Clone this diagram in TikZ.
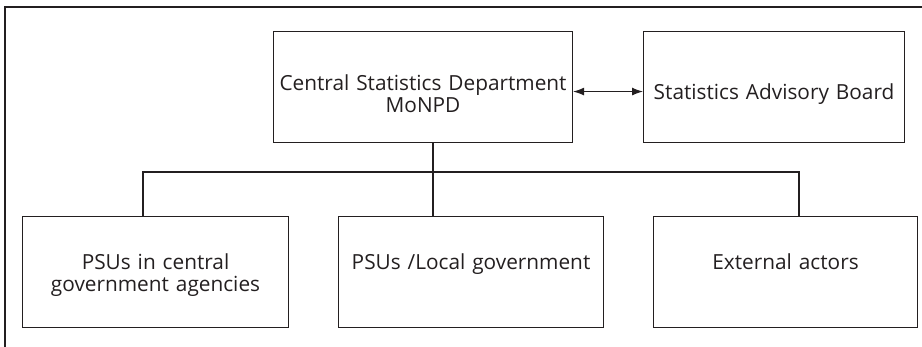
\documentclass[tikz,border=0pt]{standalone}
\usepackage{fontspec}
\setmainfont{Open Sans}
\usetikzlibrary{arrows.meta}
\definecolor{ink}{HTML}{231F20}
\begin{document}
\begin{tikzpicture}[x=1pt,y=-1pt,
    box/.style={draw=ink,line width=1.1pt,inner sep=0pt,align=center,anchor=north west,
      text=ink,font=\fontsize{20.8}{22}\selectfont},
    link/.style={draw=ink,line width=1.1pt},
    frame/.style={draw=ink,line width=2.2pt}]
        \useasboundingbox (0,0) rectangle (922,347);
        \draw[frame] (5,347) -- (5,7) -- (922,7);
        \node[box,text width=299pt,text height=59pt,text depth=52pt] (central) at (273,31)
          {Central Statistics Department\\MoNPD};
        \node[box,text width=261pt,text height=68pt,text depth=43pt] (board) at (643,31)
          {Statistics Advisory Board};
        \node[box,text width=266pt,text height=53pt,text depth=58pt] (agencies) at (22,216)
          {PSUs in central\\government agencies};
        \node[box,text width=265pt,text height=53pt,text depth=58pt] (local) at (338,216)
          {PSUs /Local government};
        \node[box,text width=264pt,text height=53pt,text depth=58pt] (external) at (653,216)
          {External actors};
        % branch points on the bus
        \coordinate (jl) at (143,172);
        \coordinate (jm) at (433,172);
        \coordinate (jr) at (799,172);
        \draw[link,{Latex[length=11pt,width=8pt]}-{Latex[length=11pt,width=8pt]}]
          ([yshift=-4.5pt]central.east) -- ([yshift=-4.5pt]board.west);
        \draw[link] (central.south -| jm) -- (jm);
        \draw[link] (agencies.north -| jl) -- (jl) -- (jr) -- (external.north -| jr);
        \draw[link] (jm) -- (local.north -| jm);
      \end{tikzpicture}
\end{document}
